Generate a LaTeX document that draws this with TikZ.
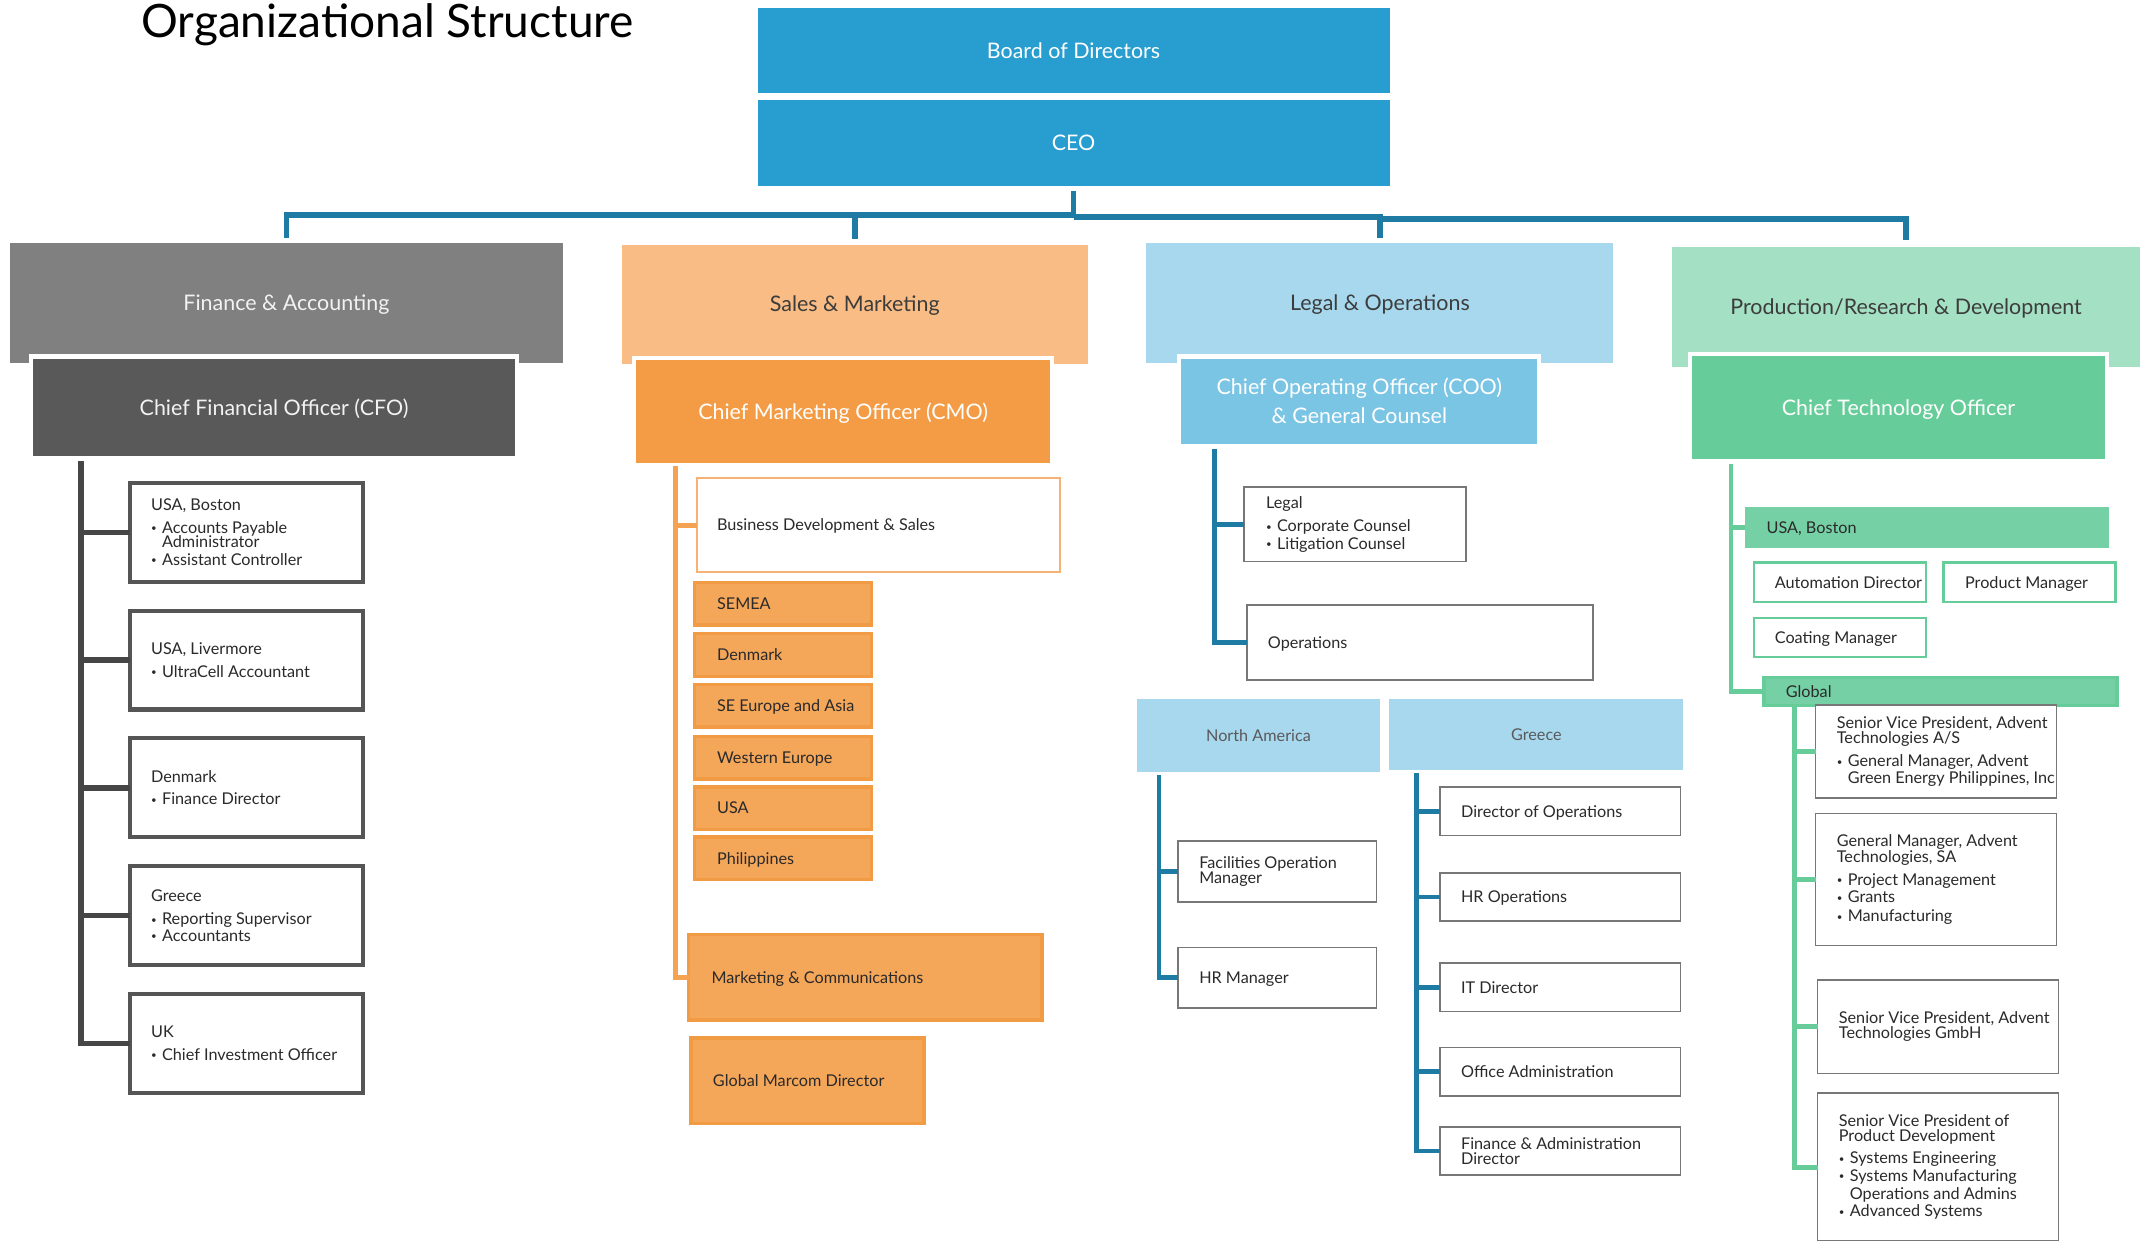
\documentclass[tikz,border=0pt]{standalone}
\usepackage{fontspec}
\setmainfont{Lato}
\definecolor{blueA}{HTML}{279DD0}
\definecolor{busC}{HTML}{1E7BA4}
\definecolor{finH}{HTML}{808080}
\definecolor{cfoC}{HTML}{595959}
\definecolor{finL}{HTML}{464646}
\definecolor{finB}{HTML}{555555}
\definecolor{salH}{HTML}{F8BC84}
\definecolor{cmoC}{HTML}{F49C45}
\definecolor{orL}{HTML}{F5A352}
\definecolor{orF}{HTML}{F4A659}
\definecolor{orB}{HTML}{F29B45}
\definecolor{bdB}{HTML}{F6B274}
\definecolor{legH}{HTML}{A7D8EE}
\definecolor{cooC}{HTML}{7AC4E4}
\definecolor{grB}{HTML}{777777}
\definecolor{prH}{HTML}{A4E0C3}
\definecolor{ctoC}{HTML}{66CC99}
\definecolor{grnL}{HTML}{66CC99}
\definecolor{grnF}{HTML}{75D1A5}
\definecolor{ink}{HTML}{2A2A2A}
\definecolor{hdInk}{HTML}{3C3C3C}
\definecolor{lightT}{HTML}{F2F2F2}
\definecolor{naT}{HTML}{5A5A5A}
\newcommand\fsA{\fontsize{11.8}{10.8}\selectfont}
\newcommand\fsH{\fontsize{15.6}{21}\selectfont}
\newcommand\itemdot{\makebox[8pt][l]{\raisebox{1.2pt}{\scalebox{0.6}{\textbullet}}}}
\newcommand\ind{\hspace*{8pt}}
\tikzset{
  every node/.style={inner sep=0pt, outer sep=0pt},
  box/.style={rectangle, anchor=north west},
  hone/.style={font=\fsH, text height=11.2pt, text depth=0pt},
  one/.style={text height=8.45pt, text depth=0pt},
  txt/.style={anchor=west, align=left, font=\fsA, text=ink},
  chief/.style={box, draw=white, line width=3pt},
  fbx/.style={box, draw=finB, line width=3pt, fill=white},
  obx/.style={box, draw=bdB, line width=1.2pt, fill=white},
  rbx/.style={box, draw=orB, line width=2.5pt, fill=orF},
  gbx/.style={box, draw=grB, line width=1.2pt, fill=white},
  gnbx/.style={box, draw=grnL, line width=1.8pt, fill=white},
  busline/.style={draw=busC, line width=4pt},
  fline/.style={draw=finL, line width=4pt},
  oline/.style={draw=orL, line width=3.5pt},
  bline/.style={draw=busC, line width=3.5pt},
  gline/.style={draw=grnL, line width=3.5pt}
}
\begin{document}
\begin{tikzpicture}[x=1pt,y=-1pt]
\useasboundingbox (0,0) rectangle (1568,903);
% title
\node[anchor=base west, font=\fontsize{33.5}{40}\selectfont, text=black] (title) at (103,27) {Organizational Structure};
% top
\node[box, fill=blueA, minimum width=460, minimum height=62.5, text=white, hone] (board) at (551.5,5.5) {Board of Directors};
\node[box, fill=blueA, minimum width=460, minimum height=62.5, text=white, hone] (ceo) at (551.5,72.8) {CEO};
% headers
\node[box, fill=finH, text=lightT, hone, minimum width=403, minimum height=87.5] (fin) at (7,177) {Finance \& Accounting};
\node[box, fill=salH, text=hdInk, hone, minimum width=339.5, minimum height=87] (sal) at (452.5,178) {Sales \& Marketing};
\node[box, fill=legH, text=hdInk, hone, minimum width=340, minimum height=87.5] (leg) at (834.5,177) {Legal \& Operations};
\node[box, fill=prH, text=hdInk, hone, minimum width=341, minimum height=87] (prd) at (1217,180) {Production/Research \& Development};
% chiefs
\node[chief, fill=cfoC, text=lightT, hone, minimum width=354, minimum height=74] (cfo) at (22.5,259.5) {Chief Financial Officer (CFO)};
\node[chief, fill=cmoC, text=white, hone, minimum width=304.5, minimum height=78] (cmo) at (461.5,260.5) {Chief Marketing Officer (CMO)};
\node[chief, fill=cooC, text=white, font=\fsH, align=center, minimum width=262, minimum height=65] (coo) at (858.5,259.5) {Chief Operating Officer (COO)\\\& General Counsel};
\node[chief, fill=ctoC, text=white, hone, minimum width=303, minimum height=78] (cto) at (1230.5,257.5) {Chief Technology Officer};
% bus
\coordinate (busA) at (0,156.5);
\coordinate (busB) at (0,158);
\coordinate (busC) at (0,159.5);
\draw[busline] ([yshift=-4pt]ceo.south) -- (ceo.south |- busA) -| ([yshift=4pt]fin.north);
\draw[busline] (sal.north |- busA) -- ([yshift=4pt]sal.north);
\draw[busline] (ceo.south |- busB) -| ([yshift=4pt]leg.north);
\draw[busline] (leg.north |- busC) -| ([yshift=5pt]prd.north);
% ---------------- Finance
\coordinate (fstem) at (59,335.5);
\node[fbx, minimum width=170, minimum height=72] (f1) at (94.5,351.5) {};
\node[fbx, minimum width=170, minimum height=72] (f2) at (94.5,444.5) {};
\node[fbx, minimum width=170, minimum height=72] (f3) at (94.5,537.5) {};
\node[fbx, minimum width=170, minimum height=72] (f4) at (94.5,630.5) {};
\node[fbx, minimum width=170, minimum height=72] (f5) at (94.5,723.5) {};
\draw[fline] (fstem) |- (f5.west);
\foreach \b in {f1,f2,f3,f4} {\draw[fline] (\b.west) -- (\b.west -| fstem);}
\node[txt] (f1t) at ([xshift=15.5pt]f1.west) {USA, Boston\\[5.5pt]\itemdot Accounts Payable\\\ind Administrator\\[2pt]\itemdot Assistant Controller};
\node[txt] (f2t) at ([xshift=15.5pt]f2.west) {USA, Livermore\\[5.5pt]\itemdot UltraCell Accountant};
\node[txt] (f3t) at ([xshift=15.5pt]f3.west) {Denmark\\[5.5pt]\itemdot Finance Director};
\node[txt] (f4t) at ([xshift=15.5pt]f4.west) {Greece\\[6pt]\itemdot Reporting Supervisor\\[1pt]\itemdot Accountants};
\node[txt] (f5t) at ([xshift=15.5pt]f5.west) {UK\\[6pt]\itemdot Chief Investment Officer};
% ---------------- Sales
\coordinate (sstem) at (492,339);
\node[obx, minimum width=264, minimum height=68.5] (bd) at (507.5,348) {};
\node[rbx, minimum width=128.5, minimum height=31] (s1) at (505.75,423.85) {};
\node[rbx, minimum width=128.5, minimum height=31] (s2) at (505.75,461.25) {};
\node[rbx, minimum width=128.5, minimum height=31] (s3) at (505.75,498.25) {};
\node[rbx, minimum width=128.5, minimum height=31] (s4) at (505.75,536.05) {};
\node[rbx, minimum width=128.5, minimum height=31] (s5) at (505.75,572.75) {};
\node[rbx, minimum width=128.5, minimum height=31] (s6) at (505.75,609.25) {};
\node[rbx, minimum width=257.2, minimum height=62.2] (mc) at (501.25,680.25) {};
\node[rbx, minimum width=169.8, minimum height=62] (gmd) at (502.85,755.75) {};
\draw[oline] (sstem) |- (mc.west);
\draw[oline] (bd.west) -- (bd.west -| sstem);
\node[txt, one] (bdt) at ([xshift=14.5pt]bd.west) {Business Development \& Sales};
\node[txt, one] (s1t) at ([xshift=16.25pt]s1.west) {SEMEA};
\node[txt, one] (s2t) at ([xshift=16.25pt]s2.west) {Denmark};
\node[txt, one] (s3t) at ([xshift=16.25pt]s3.west) {SE Europe and Asia};
\node[txt, one] (s4t) at ([xshift=16.25pt]s4.west) {Western Europe};
\node[txt, one] (s5t) at ([xshift=16.25pt]s5.west) {USA};
\node[txt, one] (s6t) at ([xshift=16.25pt]s6.west) {Philippines};
\node[txt, one] (mct) at ([xshift=16.75pt]mc.west) {Marketing \& Communications};
\node[txt, one] (gmdt) at ([xshift=16.15pt]gmd.west) {Global Marcom Director};
% ---------------- Legal
\coordinate (lstem) at (884,326.5);
\node[gbx, minimum width=161.5, minimum height=54.2] (lg) at (905.6,354.6) {};
\node[gbx, minimum width=251.8, minimum height=54.4] (ops) at (907.6,440.6) {};
\draw[bline] (lstem) |- (ops.west);
\draw[bline] (lg.west) -- (lg.west -| lstem);
\node[txt] (lgt) at ([xshift=16pt]lg.west) {Legal\\[5.5pt]\itemdot Corporate Counsel\\[2pt]\itemdot Litigation Counsel};
\node[txt, one] (opst) at ([xshift=15.4pt]ops.west) {Operations};
\node[box, fill=legH, minimum width=177.2, minimum height=53.4, font=\fsA, one, text=naT] (na) at (827.5,508.6) {North America};
\node[box, fill=legH, minimum width=214, minimum height=51.5, font=\fsA, one, text=naT] (gr) at (1011.4,509) {Greece};
% North America
\coordinate (nstem) at (843.7,564.5);
\node[gbx, minimum width=144.3, minimum height=44.2] (fac) at (857.6,612.4) {};
\node[gbx, minimum width=144.3, minimum height=44.2] (hrm) at (857.6,689.6) {};
\draw[bline] (nstem) |- (hrm.west);
\draw[bline] (fac.west) -- (fac.west -| nstem);
\node[txt] (fact) at ([xshift=15.4pt]fac.west) {Facilities Operation\\Manager};
\node[txt, one] (hrmt) at ([xshift=15.4pt]hrm.west) {HR Manager};
% Greece
\coordinate (gstem) at (1031.2,563);
\node[gbx, minimum width=175.4, minimum height=35.2] (g1) at (1048,573.1) {};
\node[gbx, minimum width=175.4, minimum height=35.2] (g2) at (1048,635.4) {};
\node[gbx, minimum width=175.4, minimum height=35.5] (g3) at (1048,700.9) {};
\node[gbx, minimum width=175.4, minimum height=35.5] (g4) at (1048,762.5) {};
\node[gbx, minimum width=175.4, minimum height=35.2] (g5) at (1048,820.3) {};
\draw[bline] (gstem) |- (g5.west);
\foreach \b in {g1,g2,g3,g4} {\draw[bline] (\b.west) -- (\b.west -| gstem);}
\node[txt, one] (g1t) at ([xshift=15.6pt]g1.west) {Director of Operations};
\node[txt, one] (g2t) at ([xshift=15.6pt]g2.west) {HR Operations};
\node[txt, one] (g3t) at ([xshift=15.6pt]g3.west) {IT Director};
\node[txt, one] (g4t) at ([xshift=15.6pt]g4.west) {Office Administration};
\node[txt] (g5t) at ([xshift=15.6pt]g5.west) {Finance \& Administration\\Director};
% ---------------- Production
\coordinate (pstem) at (1260,337.5);
\coordinate (pstem2) at (1306,515);
\draw[gline] (pstem2) |- (1323.1,849.6) coordinate (p4b);
\node[box, fill=grnF, minimum width=265, minimum height=30] (usb) at (1270,368.8) {};
\node[gnbx, minimum width=125.3, minimum height=28.5] (aut) at (1276.8,409.6) {};
\node[gnbx, minimum width=125.2, minimum height=28.5] (pm) at (1414.9,409.6) {};
\node[gnbx, minimum width=125.3, minimum height=28.5] (coat) at (1276.8,449.9) {};
\node[box, draw=grnL, line width=2.5pt, fill=grnF, minimum width=257, minimum height=20.5] (glob) at (1284,493.25) {};
\draw[gline] (pstem) |- (glob.west);
\draw[gline] (usb.west) -- (usb.west -| pstem);
\node[txt, one] (usbt) at ([xshift=16pt]usb.west) {USA, Boston};
\node[txt, one] (autt) at ([xshift=15.2pt]aut.west) {Automation Director};
\node[txt, one] (pmt) at ([xshift=15.6pt]pm.west) {Product Manager};
\node[txt, one] (coatt) at ([xshift=15.2pt]coat.west) {Coating Manager};
\node[txt, one] (globt) at ([xshift=16pt]glob.west) {Global};
\node[gbx, minimum width=175.3, minimum height=67.6] (p1) at (1321.6,513.1) {};
\node[gbx, minimum width=175.3, minimum height=96.2] (p2) at (1321.6,592.1) {};
\node[gbx, minimum width=175.3, minimum height=67.8] (p3) at (1323.1,713.6) {};
\node[gbx, minimum width=175.3, minimum height=108] (p4) at (1323.1,795.6) {};
\foreach \b in {p1,p2,p3} {\draw[gline] (\b.west) -- (\b.west -| pstem2);}
\draw[gline] (p4.west) -- (p4.west -| pstem2);
\node[txt] (p1t) at ([xshift=15.5pt]p1.west) {Senior Vice President, Advent\\Technologies A/S\\[5.5pt]\itemdot General Manager, Advent\\\ind Green Energy Philippines, Inc};
\node[txt] (p2t) at ([xshift=15.5pt]p2.west) {General Manager, Advent\\Technologies, SA\\[6pt]\itemdot Project Management\\[2pt]\itemdot Grants\\[3pt]\itemdot Manufacturing};
\node[txt] (p3t) at ([xshift=15.5pt]p3.west) {Senior Vice President, Advent\\Technologies GmbH};
\node[txt] (p4t) at ([xshift=15.5pt]p4.west) {Senior Vice President of\\Product Development\\[5.5pt]\itemdot Systems Engineering\\[2pt]\itemdot Systems Manufacturing\\[1.5pt]\ind Operations and Admins\\[1.5pt]\itemdot Advanced Systems};
\end{tikzpicture}
\end{document}
